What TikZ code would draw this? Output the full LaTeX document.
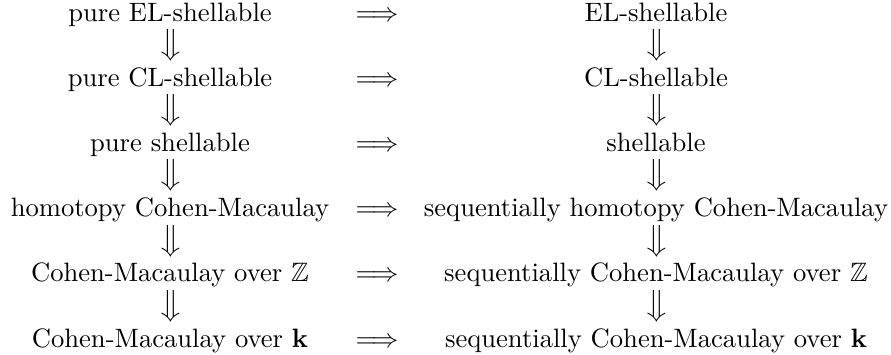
\documentclass[tikz,border=0pt]{standalone}
\usepackage{amssymb}
\begin{document}
\begin{tikzpicture}[x=0.376pt,y=-0.376pt,
  lbl/.style={inner sep=0pt,anchor=base},
  darr/.style={inner sep=0pt,anchor=center},
  rarr/.style={inner sep=0pt,anchor=base}]
\useasboundingbox (0,0) rectangle (891,354);
% left column
\node[lbl] (l1) at (170,21) {pure EL-shellable};
\node[lbl] (l2) at (170,86.2) {pure CL-shellable};
\node[lbl] (l3) at (170,151.4) {pure shellable};
\node[lbl] (l4) at (170,216.6) {homotopy Cohen-Macaulay};
\node[lbl] (l5) at (170,281.8) {Cohen-Macaulay over $\mathbb{Z}$};
\node[lbl] (l6) at (170,347) {Cohen-Macaulay over $\mathbf{k}$};
% right column
\node[lbl] (r1) at (656,21) {EL-shellable};
\node[lbl] (r2) at (656,86.2) {CL-shellable};
\node[lbl] (r3) at (656,151.4) {shellable};
\node[lbl] (r4) at (656,216.6) {sequentially homotopy Cohen-Macaulay};
\node[lbl] (r5) at (656,281.8) {sequentially Cohen-Macaulay over $\mathbb{Z}$};
\node[lbl] (r6) at (656,347) {sequentially Cohen-Macaulay over $\mathbf{k}$};
% horizontal implications
\foreach \i/\y in {1/21,2/86.2,3/151.4,4/216.6,5/281.8,6/347}
  \node[rarr] (h\i) at (377,\y) {$\Longrightarrow$};
% vertical implications
\foreach \i/\y in {1/45.5,2/110.7,3/175.9,4/241.1,5/306.3}{
  \node[darr] (dl\i) at (171,\y) {$\big\Downarrow$};
  \node[darr] (dr\i) at (657,\y) {$\big\Downarrow$};
}
\end{tikzpicture}
\end{document}
